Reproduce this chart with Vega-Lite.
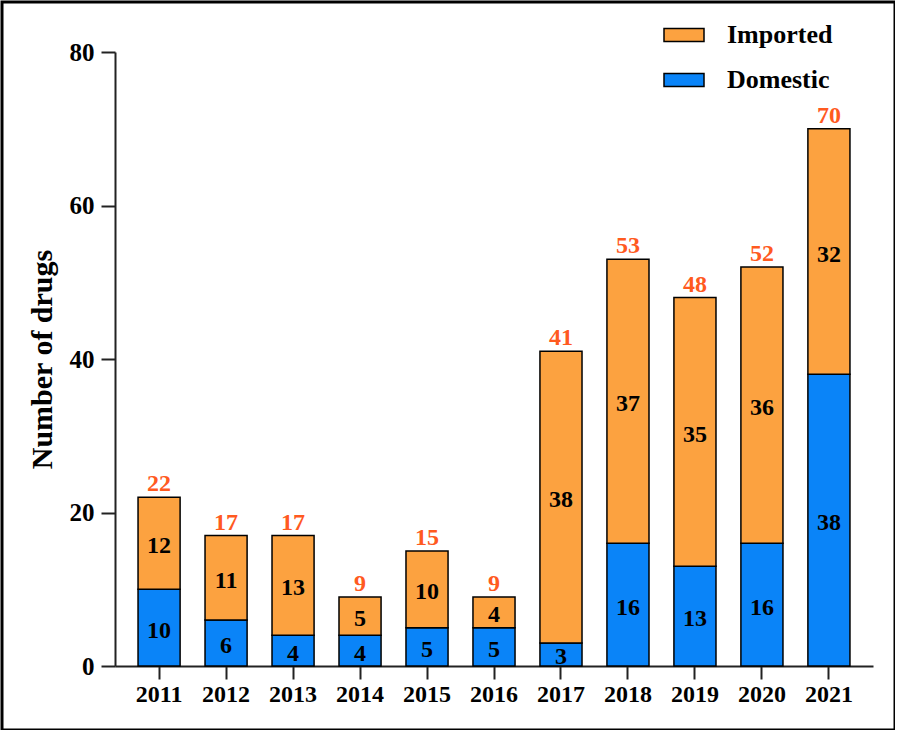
{
  "$schema": "https://vega.github.io/schema/vega-lite/v6.json",
  "width": 893,
  "height": 728,
  "autosize": {"type": "none"},
  "padding": {"left": 2, "top": 2, "right": 0, "bottom": 0},
  "config": {
    "view": {"stroke": "black", "strokeWidth": 3},
    "font": "Liberation Serif"
  },
  "data": {
    "values": [
      {"year": "2011", "type": "Domestic", "count": 10, "total": 22},
      {"year": "2011", "type": "Imported", "count": 12, "total": 22},
      {"year": "2012", "type": "Domestic", "count": 6, "total": 17},
      {"year": "2012", "type": "Imported", "count": 11, "total": 17},
      {"year": "2013", "type": "Domestic", "count": 4, "total": 17},
      {"year": "2013", "type": "Imported", "count": 13, "total": 17},
      {"year": "2014", "type": "Domestic", "count": 4, "total": 9},
      {"year": "2014", "type": "Imported", "count": 5, "total": 9},
      {"year": "2015", "type": "Domestic", "count": 5, "total": 15},
      {"year": "2015", "type": "Imported", "count": 10, "total": 15},
      {"year": "2016", "type": "Domestic", "count": 5, "total": 9},
      {"year": "2016", "type": "Imported", "count": 4, "total": 9},
      {"year": "2017", "type": "Domestic", "count": 3, "total": 41},
      {"year": "2017", "type": "Imported", "count": 38, "total": 41},
      {"year": "2018", "type": "Domestic", "count": 16, "total": 53},
      {"year": "2018", "type": "Imported", "count": 37, "total": 53},
      {"year": "2019", "type": "Domestic", "count": 13, "total": 48},
      {"year": "2019", "type": "Imported", "count": 35, "total": 48},
      {"year": "2020", "type": "Domestic", "count": 16, "total": 52},
      {"year": "2020", "type": "Imported", "count": 36, "total": 52},
      {"year": "2021", "type": "Domestic", "count": 38, "total": 70},
      {"year": "2021", "type": "Imported", "count": 32, "total": 70}
    ]
  },
  "encoding": {
    "x": {
      "field": "year",
      "type": "nominal",
      "scale": {"range": [113, 871], "paddingInner": 0.372, "paddingOuter": 0.344},
      "axis": {
        "orient": "bottom",
        "offset": -64,
        "title": null,
        "labelAngle": 0,
        "domainColor": "#222222",
        "domainWidth": 2,
        "tickColor": "#222222",
        "tickWidth": 2,
        "tickSize": 13,
        "labelFontSize": 24,
        "labelFontWeight": "bold",
        "labelColor": "black",
        "labelPadding": 3,
        "grid": false
      }
    }
  },
  "layer": [
    {
      "mark": {"type": "bar", "stroke": "black", "strokeWidth": 1.5},
      "encoding": {
        "y": {
          "field": "count",
          "type": "quantitative",
          "stack": "zero",
          "scale": {"domain": [0, 80], "range": [664, 50], "nice": false},
          "axis": {
            "orient": "left",
            "offset": -113,
            "values": [0, 20, 40, 60, 80],
            "title": "Number of drugs",
            "titleFontSize": 30,
            "titleFontWeight": "bold",
            "titleColor": "black",
            "titlePadding": 12,
            "domainColor": "#222222",
            "domainWidth": 2,
            "tickColor": "#222222",
            "tickWidth": 2,
            "tickSize": 14,
            "labelFontSize": 25,
            "labelFontWeight": "bold",
            "labelColor": "black",
            "labelPadding": 7,
            "grid": false
          }
        },
        "color": {
          "field": "type",
          "type": "nominal",
          "scale": {"domain": ["Imported", "Domestic"], "range": ["#FCA240", "#0A84F8"]},
          "legend": {
            "title": null,
            "orient": "none",
            "legendX": 661,
            "legendY": 12,
            "direction": "vertical",
            "padding": 0,
            "symbolType": "M-1,-0.33H1V0.33H-1Z",
            "symbolSize": 1600,
            "symbolStrokeColor": "black",
            "symbolStrokeWidth": 1.5,
            "symbolOpacity": 1,
            "labelFontSize": 26,
            "labelFontWeight": "bold",
            "labelColor": "black",
            "labelOffset": 22,
            "rowPadding": 11
          }
        },
        "order": {"field": "type", "sort": "ascending"}
      }
    },
    {
      "transform": [
        {"stack": "count", "groupby": ["year"], "sort": [{"field": "type", "order": "ascending"}], "as": ["y0", "y1"]},
        {"calculate": "(datum.y0 + datum.y1) / 2", "as": "mid"}
      ],
      "mark": {"type": "text", "fontSize": 24, "fontWeight": "bold", "color": "black", "baseline": "middle", "dy": 3},
      "encoding": {
        "y": {"field": "mid", "type": "quantitative"},
        "text": {"field": "count", "type": "quantitative"}
      }
    },
    {
      "transform": [{"filter": "datum.type == 'Imported'"}],
      "mark": {"type": "text", "fontSize": 24, "fontWeight": "bold", "color": "#FF5A1F", "baseline": "alphabetic", "dy": -6},
      "encoding": {
        "y": {"field": "total", "type": "quantitative"},
        "text": {"field": "total", "type": "quantitative"}
      }
    }
  ]
}
